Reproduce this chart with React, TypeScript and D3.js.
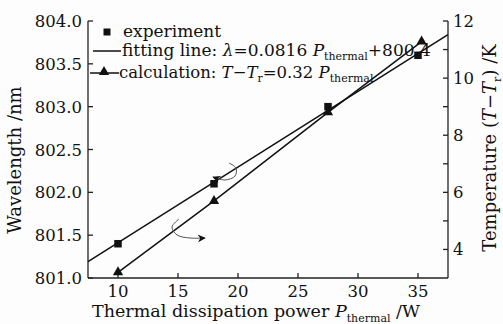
import React from "react";
import * as d3 from "d3";

// ---- data ----
const expPower = [10, 18, 27.5, 35];
const expWavelength = [801.4, 802.1, 803.0, 803.6];
const fitPower = [7.5, 37.5];
const fitWavelength = [801.19, 803.84];
const calcPower = [10, 18, 27.5, 35.3];
const calcTemp = [3.2, 5.7, 8.8, 11.28];
const xTicks = [10, 15, 20, 25, 30, 35];
const yLeftTicks = [801.0, 801.5, 802.0, 802.5, 803.0, 803.5, 804.0];
const yRightTicks = [4, 5, 6, 7, 8, 9, 10, 11, 12];
const yRightLabels = [4, 6, 8, 10, 12];
// annotation arrows (data coords, left axis)
const arrow1X = [19.25, 19.83, 19.75, 18.92, 17.92];
const arrow1Y = [802.342, 802.284, 802.19, 802.144, 802.179];
const arrow2X = [15.08, 14.5, 14.92, 16.0, 17.25];
const arrow2Y = [801.689, 801.595, 801.502, 801.467, 801.467];

const W = 503;
const H = 324;
const M = { left: 88, right: 448, top: 21, bottom: 278 };
const FONT = "'DejaVu Serif', serif";

export default function App() {
  const x = d3.scaleLinear().domain([7.5, 37.5]).range([M.left, M.right]);
  const yL = d3.scaleLinear().domain([801, 804]).range([M.bottom, M.top]);
  const yR = d3.scaleLinear().domain([3, 12]).range([M.bottom, M.top]);

  const lineL = d3.line<[number, number]>().x((d) => x(d[0])).y((d) => yL(d[1]));
  const lineR = d3.line<[number, number]>().x((d) => x(d[0])).y((d) => yR(d[1]));
  const curve = d3
    .line<[number, number]>()
    .x((d) => x(d[0]))
    .y((d) => yL(d[1]))
    .curve(d3.curveCatmullRom);

  const fitPts = fitPower.map((p, i) => [p, fitWavelength[i]] as [number, number]);
  const calcPts = calcPower.map((p, i) => [p, calcTemp[i]] as [number, number]);
  const a1 = arrow1X.map((p, i) => [p, arrow1Y[i]] as [number, number]);
  const a2 = arrow2X.map((p, i) => [p, arrow2Y[i]] as [number, number]);

  const tri = d3.symbol().type(d3.symbolTriangle).size(46)();
  const tickFs = 16.5;

  return (
    <svg width={W} height={H} style={{ display: "block", position: "absolute", left: 0, top: 0, background: "#fdfdfd" }}>
      <defs>
        <marker id="ah" viewBox="0 0 10 10" refX="9" refY="5" markerWidth="11" markerHeight="8" orient="auto" markerUnits="userSpaceOnUse">
          <path d="M0,0 L10,5 L0,10 L3,5 Z" fill="#111" />
        </marker>
      </defs>
      <rect width={W} height={H} fill="#fdfdfd" />
      {/* axes lines */}
      <g stroke="#222" strokeWidth={1.3} fill="none">
        <line x1={M.left} x2={M.left} y1={M.top} y2={M.bottom} />
        <line x1={M.right} x2={M.right} y1={M.top} y2={M.bottom} />
        <line x1={M.left} x2={M.right} y1={M.bottom} y2={M.bottom} />
        {xTicks.map((t) => (
          <line key={"xt" + t} x1={x(t)} x2={x(t)} y1={M.bottom} y2={M.bottom - 5} />
        ))}
        {yLeftTicks.map((t) => (
          <line key={"yl" + t} x1={M.left} x2={M.left + 5} y1={yL(t)} y2={yL(t)} />
        ))}
        {yRightTicks.map((t) => (
          <line key={"yr" + t} x1={M.right} x2={M.right - 5} y1={yR(t)} y2={yR(t)} />
        ))}
      </g>
      <g fontFamily={FONT} fontSize={tickFs} fill="#111">
        {xTicks.map((t) => (
          <text key={"xl" + t} x={x(t)} y={M.bottom + 19} textAnchor="middle">
            {t}
          </text>
        ))}
        {yLeftTicks.map((t) => (
          <text key={"yll" + t} x={M.left - 6} y={yL(t) + 6} textAnchor="end">
            {t.toFixed(1)}
          </text>
        ))}
        {yRightLabels.map((t) => (
          <text key={"yrl" + t} x={M.right + 5} y={yR(t) + 6} textAnchor="start">
            {t}
          </text>
        ))}
      </g>
      {/* axis titles */}
      <text x={256} y={317} textAnchor="middle" fontFamily={FONT} fontSize={17.5} fill="#111">
        Thermal dissipation power <tspan fontStyle="italic">P</tspan>
        <tspan fontSize={11} dy={5}>thermal</tspan>
        <tspan dy={-5}> /W</tspan>
      </text>
      <text
        transform={`translate(21,160) rotate(-90)`}
        textAnchor="middle"
        fontFamily={FONT}
        fontSize={18}
        fill="#111"
      >
        Wavelength /nm
      </text>
      <text
        transform={`translate(496,148) rotate(-90)`}
        textAnchor="middle"
        fontFamily={FONT}
        fontSize={18}
        fill="#111"
      >
        Temperature (<tspan fontStyle="italic">T</tspan>−<tspan fontStyle="italic">T</tspan>
        <tspan fontSize={11} dy={5}>r</tspan>
        <tspan dy={-5}>) /K</tspan>
      </text>
      {/* fit line */}
      <path d={lineL(fitPts) || ""} stroke="#111" strokeWidth={1.5} fill="none" />
      {/* calc line */}
      <path d={lineR(calcPts) || ""} stroke="#111" strokeWidth={1.5} fill="none" />
      {/* experiment squares */}
      {expPower.map((p, i) => (
        <rect key={"sq" + i} x={x(p) - 3.75} y={yL(expWavelength[i]) - 3.75} width={7.5} height={7.5} fill="#111" />
      ))}
      {/* calc triangles */}
      {calcPower.map((p, i) => (
        <path key={"tr" + i} d={tri || ""} transform={`translate(${x(p)},${yR(calcTemp[i])})`} fill="#111" />
      ))}
      {/* annotation arrows */}
      <path d={curve(a1) || ""} stroke="#555" strokeWidth={1} fill="none" markerEnd="url(#ah)" />
      <path d={curve(a2) || ""} stroke="#555" strokeWidth={1} fill="none" markerEnd="url(#ah)" />
      {/* legend */}
      <g fontFamily={FONT} fontSize={17} fill="#111">
        <rect x={103.5} y={28.5} width={7} height={7} fill="#111" />
        <text x={123} y={37}>experiment</text>
        <line x1={93} x2={121} y1={51} y2={51} stroke="#111" strokeWidth={1.5} />
        <text x={122} y={56}>
          fitting line: <tspan fontStyle="italic">λ</tspan>=0.0816 <tspan fontStyle="italic">P</tspan>
          <tspan fontSize={11} dy={4}>thermal</tspan>
          <tspan dy={-4}>+800.4</tspan>
        </text>
        <line x1={90} x2={119} y1={73} y2={73} stroke="#111" strokeWidth={1.5} />
        <path d={tri || ""} transform={`translate(104,72)`} fill="#111" />
        <text x={119} y={78} fontSize={16.5}>
          calculation: <tspan fontStyle="italic">T</tspan>−<tspan fontStyle="italic">T</tspan>
          <tspan fontSize={11} dy={4}>r</tspan>
          <tspan dy={-4}>=0.32 </tspan>
          <tspan fontStyle="italic">P</tspan>
          <tspan fontSize={11} dy={4}>thermal</tspan>
        </text>
      </g>
    </svg>
  );
}
